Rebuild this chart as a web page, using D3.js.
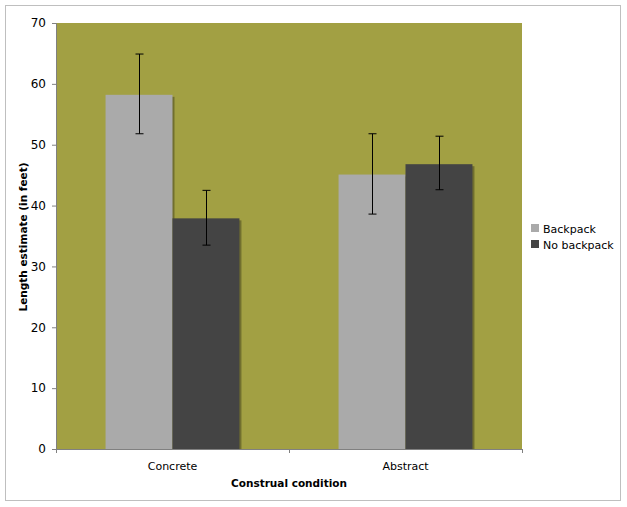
<!DOCTYPE html>
<html>
<head>
<meta charset="utf-8">
<script src="https://cdn.jsdelivr.net/npm/d3@7.9.0/dist/d3.min.js"></script>
<style>
  body { margin: 0; background: #fff; }
  svg text { font-family: "DejaVu Sans", Verdana, sans-serif; fill: #000; }
</style>
</head>
<body>
<svg id="chart" width="627" height="507"></svg>
<script>
// chart data
const categories = ['Concrete', 'Abstract'];
const seriesNames = ['Backpack', 'No backpack'];
const seriesColors = ['#aaaaaa', '#444444'];
const backpack = [58.2, 45.1];
const noBackpack = [37.9, 46.8];
const backpackErrHi = [64.9, 51.8];
const backpackErrLo = [51.8, 38.6];
const noBackpackErrHi = [42.5, 51.4];
const noBackpackErrLo = [33.5, 42.6];
const yTicks = [0, 10, 20, 30, 40, 50, 60, 70];

const svg = d3.select('#chart');

// outer frame
svg.append('rect')
  .attr('x', 5.5).attr('y', 5.5)
  .attr('width', 615).attr('height', 495)
  .attr('fill', '#fff').attr('stroke', '#bfbfbf');

const plot = { left: 56, top: 23, right: 522, bottom: 449 };

const x = d3.scaleBand()
  .domain(categories)
  .range([plot.left, plot.right]);

const xInner = d3.scaleBand()
  .domain(seriesNames)
  .range([0, x.bandwidth()])
  .paddingOuter(0.74);

const y = d3.scaleLinear()
  .domain([0, 70])
  .range([plot.bottom, plot.top]);

// plot background
svg.append('rect')
  .attr('x', plot.left).attr('y', plot.top)
  .attr('width', plot.right - plot.left).attr('height', plot.bottom - plot.top)
  .attr('fill', '#a2a043');

// build rows for the bars
const rows = [];
categories.forEach((c, i) => {
  rows.push({ cat: c, s: seriesNames[0], v: backpack[i], hi: backpackErrHi[i], lo: backpackErrLo[i], col: seriesColors[0] });
  rows.push({ cat: c, s: seriesNames[1], v: noBackpack[i], hi: noBackpackErrHi[i], lo: noBackpackErrLo[i], col: seriesColors[1] });
});

const bx = d => x(d.cat) + xInner(d.s);

// shadows
svg.append('g').selectAll('rect')
  .data(rows)
  .join('rect')
  .attr('x', d => bx(d) + 2)
  .attr('y', d => y(d.v) + 2)
  .attr('width', xInner.bandwidth())
  .attr('height', d => y(0) - y(d.v) - 2)
  .attr('fill', '#000')
  .attr('opacity', 0.3);

// bars
svg.append('g').selectAll('rect')
  .data(rows)
  .join('rect')
  .attr('x', d => bx(d))
  .attr('y', d => y(d.v))
  .attr('width', xInner.bandwidth())
  .attr('height', d => y(0) - y(d.v))
  .attr('fill', d => d.col);

// error bars
const err = svg.append('g').attr('stroke', '#000').attr('stroke-width', 1);
rows.forEach(d => {
  const cx = Math.round(bx(d) + xInner.bandwidth() / 2) + 0.5;
  err.append('line').attr('x1', cx).attr('x2', cx).attr('y1', y(d.hi)).attr('y2', y(d.lo));
  err.append('line').attr('x1', cx - 4).attr('x2', cx + 4).attr('y1', y(d.hi)).attr('y2', y(d.hi));
  err.append('line').attr('x1', cx - 4).attr('x2', cx + 4).attr('y1', y(d.lo)).attr('y2', y(d.lo));
});

// y axis
const yAxis = svg.append('g')
  .attr('transform', `translate(${plot.left},0)`)
  .call(d3.axisLeft(y).tickValues(yTicks).tickSize(4).tickPadding(6));
yAxis.select('.domain').attr('stroke', '#808080');
yAxis.selectAll('.tick line').attr('stroke', '#808080');
yAxis.selectAll('.tick text').attr('font-size', 12).style('font-family', '"DejaVu Sans", Verdana, sans-serif');

// x axis with ticks on band edges
const xAxisG = svg.append('g').attr('transform', `translate(0,${plot.bottom})`);
xAxisG.append('line')
  .attr('x1', plot.left).attr('x2', plot.right)
  .attr('y1', 0.5).attr('y2', 0.5)
  .attr('stroke', '#808080');
const edges = categories.map(c => x(c)).concat([plot.right]);
xAxisG.selectAll('line.edge')
  .data(edges)
  .join('line')
  .attr('class', 'edge')
  .attr('x1', d => Math.round(d) + 0.5).attr('x2', d => Math.round(d) + 0.5)
  .attr('y1', 0).attr('y2', 4)
  .attr('stroke', '#808080');
xAxisG.selectAll('text')
  .data(categories)
  .join('text')
  .attr('x', d => x(d) + x.bandwidth() / 2)
  .attr('y', 21)
  .attr('text-anchor', 'middle')
  .attr('font-size', 11)
  .text(d => d);

// axis titles
svg.append('text')
  .attr('x', (plot.left + plot.right) / 2)
  .attr('y', 487)
  .attr('text-anchor', 'middle')
  .attr('font-size', 10.5)
  .attr('font-weight', 'bold')
  .text('Construal condition');

svg.append('text')
  .attr('transform', `translate(27,237) rotate(-90)`)
  .attr('text-anchor', 'middle')
  .attr('font-size', 10.5)
  .attr('font-weight', 'bold')
  .text('Length estimate (in feet)');

// legend
const legend = svg.append('g').attr('transform', 'translate(531,223)');
seriesNames.forEach((s, i) => {
  const g = legend.append('g').attr('transform', `translate(0,${i * 16})`);
  g.append('rect').attr('width', 8).attr('height', 8).attr('y', 1).attr('fill', seriesColors[i]);
  g.append('text').attr('x', 12).attr('y', 9.5).attr('font-size', 11).text(s);
});
</script>
</body>
</html>
